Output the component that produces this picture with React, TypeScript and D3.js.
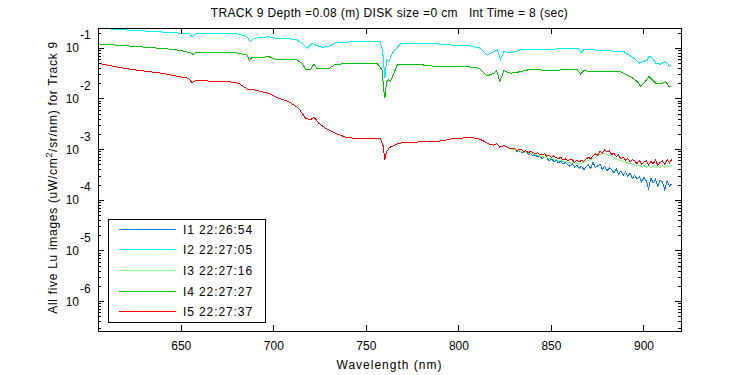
import React from "react";
import * as d3 from "d3";

const W = 750;
const H = 375;
const PLOT = { left: 98, right: 681, top: 28, bottom: 331 };

const titleText = "TRACK 9 Depth =0.08 (m) DISK size =0 cm   Int Time = 8 (sec)";
const xLabel = "Wavelength (nm)";
const xDomain = [605, 920];
const yExpDomain = [-6.58, -0.6];
const xTicks = [650, 700, 750, 800, 850, 900];
const yDecades = [-1, -2, -3, -4, -5, -6];

const legendLabels = ["I1 22:26:54", "I2 22:27:05", "I3 22:27:16", "I4 22:27:27", "I5 22:27:37"];
const seriesColors = ["#0a7cf5", "#00f0ff", "#80f880", "#00c000", "#ff0000"];

// I2 (cyan)
const i2: [number, number][] = [
  [605, 0.26], [613.4, 0.237], [630.5, 0.219], [645.8, 0.203], [650.4, 0.198], [654.5, 0.196],
  [655.8, 0.169], [657.6, 0.191], [664.8, 0.198], [681.0, 0.191], [685.5, 0.169], [687.3, 0.135],
  [689.1, 0.157], [697.2, 0.169], [700.8, 0.157], [711.7, 0.151], [715.3, 0.126], [718.0, 0.1],
  [720.7, 0.126], [722.5, 0.116], [726.1, 0.105], [729.7, 0.108], [733.3, 0.129], [744.1, 0.135],
  [757.6, 0.133], [758.9, 0.0796], [760.0, 0.0256], [760.9, 0.0587], [762.1, 0.0544], [764.0, 0.0796],
  [768.4, 0.122], [777.5, 0.126], [788.3, 0.122], [795.5, 0.116], [804.5, 0.116], [811.7, 0.1],
  [815.3, 0.0738], [818.9, 0.0857], [820.7, 0.0925], [822.5, 0.0607], [824.3, 0.0857], [827.9, 0.0818],
  [833.3, 0.0925], [842.4, 0.0955], [849.6, 0.0925], [855.0, 0.1], [864.9, 0.0968], [865.8, 0.0818],
  [867.6, 0.0955], [873.0, 0.0925], [889.2, 0.0857], [894.6, 0.0635], [897.3, 0.0506], [899.2, 0.0544],
  [901.9, 0.0587], [902.7, 0.0705], [904.6, 0.0635], [906.4, 0.0506], [909.1, 0.0483], [910.9, 0.0544],
  [912.7, 0.0506], [913.6, 0.0434], [914.5, 0.0469],
];

// I4 (green)
const i4: [number, number][] = [
  [605.3, 0.122], [614.3, 0.116], [630.5, 0.105], [645.0, 0.0955], [650.4, 0.0897], [655.8, 0.0796],
  [656.3, 0.0728], [657.6, 0.0834], [679.2, 0.0818], [685.5, 0.0738], [686.8, 0.0569], [688.2, 0.0664],
  [693.6, 0.0664], [697.2, 0.0682], [700.8, 0.0607], [711.7, 0.0607], [715.3, 0.0506], [717.4, 0.0373],
  [719.8, 0.0373], [721.6, 0.0483], [723.4, 0.0396], [729.7, 0.0396], [733.3, 0.0483], [744.1, 0.0506],
  [755.8, 0.0506], [758.5, 0.0373], [759.4, 0.0151], [760.0, 0.0103], [760.9, 0.0219], [762.1, 0.0237],
  [763.0, 0.0219], [766.7, 0.0469], [777.5, 0.0483], [788.3, 0.0434], [795.5, 0.0434], [804.5, 0.0434],
  [810.8, 0.0404], [815.3, 0.0284], [818.9, 0.0321], [820.4, 0.0361], [822.1, 0.0219], [824.3, 0.0361],
  [827.9, 0.0321], [833.3, 0.0345], [838.7, 0.0385], [849.6, 0.0361], [855.0, 0.0373], [864.0, 0.0373],
  [865.8, 0.0311], [867.6, 0.0361], [873.0, 0.0345], [887.4, 0.0345], [892.8, 0.0275], [896.5, 0.0219],
  [898.2, 0.0175], [900.0, 0.0204], [902.7, 0.0275], [904.6, 0.0237], [906.4, 0.0204], [909.1, 0.0198],
  [911.8, 0.0219], [913.6, 0.0175], [914.5, 0.018],
];

// I1, I3, I5 share this part (605-828 nm)
const lowCommon: [number, number][] = [
  [605.3, 0.0506], [614.3, 0.0434], [625.1, 0.0373], [639.6, 0.0321], [646.8, 0.0284], [653.9, 0.0256],
  [655.8, 0.0209], [657.6, 0.023], [675.6, 0.0219], [681.0, 0.0204], [686.4, 0.0151], [688.2, 0.0155],
  [693.6, 0.0139], [697.2, 0.0129], [702.6, 0.0103], [708.0, 0.00885], [713.4, 0.00656], [717.1, 0.00416],
  [719.8, 0.00385], [721.6, 0.00436], [723.0, 0.00385], [724.3, 0.00332], [727.9, 0.00264], [733.3, 0.0021],
  [738.7, 0.00176], [744.1, 0.00166], [757.6, 0.00164], [759.0, 0.0012], [760.0, 0.00063], [760.9, 0.0009],
  [762.5, 0.0011], [766.7, 0.0013], [770, 0.00138], [780, 0.00142], [790, 0.00148], [797, 0.00165],
  [805, 0.00172], [810, 0.00168], [813, 0.0015], [816, 0.0013], [818.9, 0.00122], [820.4, 0.00132],
  [822.1, 0.00112], [824.3, 0.0012], [827.9, 0.00104],
];

// 830-915 nm in 1.25 nm steps
const tailWl = d3.range(69).map((k) => 830 + 1.25 * k);
// values in units of 1e-3
const i1Tail = [
  0.99, 0.93, 0.95, 0.88, 0.86, 0.9, 0.8, 0.84, 0.76, 0.79, 0.72, 0.74, 0.66, 0.71, 0.68, 0.61, 0.66, 0.58,
  0.62, 0.55, 0.59, 0.52, 0.56, 0.5, 0.47, 0.53, 0.45, 0.49, 0.43, 0.47, 0.4, 0.46, 0.5, 0.42, 0.56, 0.44,
  0.48, 0.52, 0.41, 0.47, 0.38, 0.44, 0.4, 0.35, 0.42, 0.33, 0.38, 0.31, 0.36, 0.3, 0.34, 0.27, 0.31, 0.26,
  0.29, 0.23, 0.28, 0.24, 0.17, 0.27, 0.22, 0.26, 0.19, 0.25, 0.23, 0.16, 0.24, 0.19, 0.21,
];
const i3Tail = [
  0.99, 0.95, 0.95, 0.91, 0.91, 0.87, 0.86, 0.83, 0.82, 0.79, 0.78, 0.74, 0.74, 0.71, 0.7, 0.67, 0.67, 0.64,
  0.64, 0.61, 0.61, 0.59, 0.59, 0.56, 0.57, 0.55, 0.55, 0.54, 0.54, 0.54, 0.57, 0.58, 0.62, 0.64, 0.69, 0.72,
  0.77, 0.79, 0.83, 0.82, 0.81, 0.76, 0.74, 0.69, 0.67, 0.63, 0.61, 0.58, 0.57, 0.54, 0.54, 0.51, 0.51, 0.49,
  0.49, 0.47, 0.48, 0.45, 0.48, 0.44, 0.48, 0.44, 0.47, 0.44, 0.48, 0.45, 0.49, 0.46, 0.5,
];
const i5Tail = [
  1.04, 0.96, 0.99, 1.01, 0.91, 0.95, 0.87, 0.92, 0.89, 0.82, 0.87, 0.78, 0.8, 0.83, 0.74, 0.77, 0.7, 0.75,
  0.69, 0.66, 0.71, 0.62, 0.66, 0.6, 0.64, 0.63, 0.56, 0.61, 0.57, 0.62, 0.59, 0.66, 0.7, 0.66, 0.76, 0.82,
  0.78, 0.93, 0.86, 0.99, 0.9, 0.94, 0.8, 0.85, 0.73, 0.78, 0.66, 0.71, 0.62, 0.67, 0.58, 0.64, 0.6, 0.53,
  0.61, 0.52, 0.57, 0.6, 0.5, 0.58, 0.53, 0.62, 0.49, 0.56, 0.6, 0.51, 0.63, 0.55, 0.64,
];

const FONT = "Arial, 'Liberation Sans', Helvetica, sans-serif";

export default function App() {
  const x = d3.scaleLinear().domain(xDomain).range([PLOT.left, PLOT.right]);
  const y = d3
    .scaleLog()
    .domain([Math.pow(10, yExpDomain[0]), Math.pow(10, yExpDomain[1])])
    .range([PLOT.bottom, PLOT.top]);
  const line = d3
    .line<[number, number]>()
    .x((d) => x(d[0]))
    .y((d) => y(d[1]));

  const withTail = (tail: number[]): [number, number][] =>
    lowCommon.concat(tailWl.map((w, i) => [w, tail[i] * 1e-3] as [number, number]));
  const series: [number, number][][] = [withTail(i1Tail), i2, withTail(i3Tail), i4, withTail(i5Tail)];

  const minorTicks: number[] = [];
  for (let e = -7; e <= 0; e++) {
    for (let m = 2; m <= 9; m++) {
      const v = m * Math.pow(10, e);
      const ev = Math.log10(v);
      if (ev > yExpDomain[0] && ev < yExpDomain[1]) minorTicks.push(v);
    }
  }

  const legend = { x: 108, y: 219, w: 157, h: 103 };
  const rowH = legend.h / 5;

  return (
    <svg
      width={W}
      height={H}
      style={{ position: "absolute", left: 0, top: 0, background: "#fff" }}
      fontFamily={FONT}
    >
      <rect x={0} y={0} width={W} height={H} fill="#fff" />
      <defs>
        <clipPath id="plotClip">
          <rect x={PLOT.left} y={PLOT.top} width={PLOT.right - PLOT.left} height={PLOT.bottom - PLOT.top} />
        </clipPath>
      </defs>

      <g clipPath="url(#plotClip)">
        {series.map((s, i) => (
          <path
            key={i}
            d={line(s) || ""}
            fill="none"
            stroke={seriesColors[i]}
            strokeWidth={1}
            shapeRendering="crispEdges"
          />
        ))}
      </g>

      {/* frame */}
      <rect
        x={PLOT.left}
        y={PLOT.top}
        width={PLOT.right - PLOT.left}
        height={PLOT.bottom - PLOT.top}
        fill="none"
        stroke="#000"
        strokeWidth={1}
        shapeRendering="crispEdges"
      />

      {/* ticks */}
      <g shapeRendering="crispEdges" stroke="#000">
        {xTicks.map((t) => (
          <g key={t}>
            <line x1={x(t)} x2={x(t)} y1={PLOT.bottom} y2={PLOT.bottom - 6} />
            <line x1={x(t)} x2={x(t)} y1={PLOT.top} y2={PLOT.top + 6} />
          </g>
        ))}
        {yDecades.map((e) => {
          const yy = y(Math.pow(10, e));
          return (
            <g key={e}>
              <line x1={PLOT.left} x2={PLOT.left + 6} y1={yy} y2={yy} />
              <line x1={PLOT.right} x2={PLOT.right - 6} y1={yy} y2={yy} />
            </g>
          );
        })}
        {minorTicks.map((v, i) => {
          const yy = y(v);
          return (
            <g key={i}>
              <line x1={PLOT.left} x2={PLOT.left + 3} y1={yy} y2={yy} />
              <line x1={PLOT.right} x2={PLOT.right - 3} y1={yy} y2={yy} />
            </g>
          );
        })}
      </g>

      {xTicks.map((t) => (
        <text key={t} x={x(t)} y={350} fontSize={12} textAnchor="middle" fill="#000">
          {t}
        </text>
      ))}

      {yDecades.map((e) => {
        const yy = y(Math.pow(10, e));
        return (
          <g key={e}>
            <text x={79} y={yy + 4} fontSize={12} textAnchor="end" fill="#000">
              10
            </text>
            <text x={80} y={yy - 9} fontSize={12} textAnchor="start" fill="#000">
              {String(e)}
            </text>
          </g>
        );
      })}

      <text
        x={(PLOT.left + PLOT.right) / 2}
        y={17}
        fontSize={12}
        letterSpacing={0.35}
        textAnchor="middle"
        fill="#000"
        xmlSpace="preserve"
      >
        {titleText}
      </text>
      <text x={(PLOT.left + PLOT.right) / 2} y={369} fontSize={12} letterSpacing={1} textAnchor="middle" fill="#000">
        {xLabel}
      </text>
      <text
        transform={`translate(57, ${(PLOT.top + PLOT.bottom) / 2 - 2}) rotate(-90)`}
        fontSize={12}
        letterSpacing={0.7}
        textAnchor="middle"
        fill="#000"
      >
        All five Lu images (uW/cm
        <tspan dy={-5} fontSize={9}>2</tspan>
        <tspan dy={5}>/sr/nm) for Track 9</tspan>
      </text>

      {/* legend */}
      <rect
        x={legend.x}
        y={legend.y}
        width={legend.w}
        height={legend.h}
        fill="#fff"
        stroke="#000"
        strokeWidth={1}
        shapeRendering="crispEdges"
      />
      {legendLabels.map((lab, i) => {
        const yy = legend.y + rowH * (i + 0.5);
        return (
          <g key={lab}>
            <line x1={119} x2={176} y1={yy} y2={yy} stroke={seriesColors[i]} strokeWidth={1} shapeRendering="crispEdges" />
            <text x={183} y={yy + 4.5} fontSize={12} letterSpacing={0.9} fill="#000">
              {lab}
            </text>
          </g>
        );
      })}
    </svg>
  );
}
